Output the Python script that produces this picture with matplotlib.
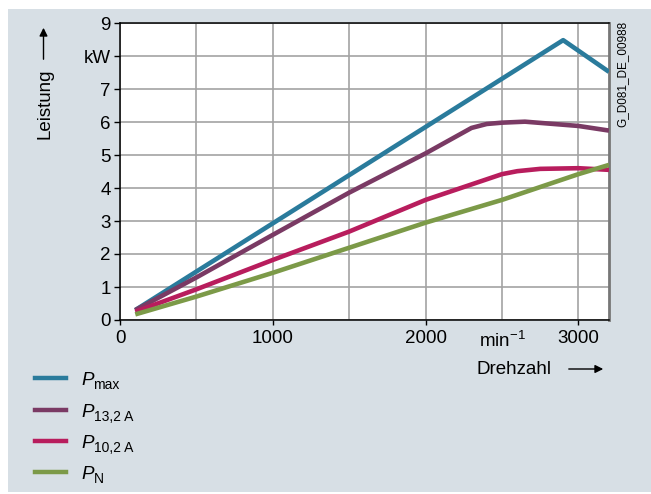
import matplotlib
matplotlib.use("Agg")
import matplotlib.pyplot as plt
from matplotlib.lines import Line2D
from matplotlib.patches import Rectangle, FancyArrowPatch

plt.rcParams['font.family'] = ['Liberation Sans', 'DejaVu Sans']
plt.rcParams['mathtext.fontset'] = 'custom'
plt.rcParams['mathtext.rm'] = 'Liberation Sans'
plt.rcParams['mathtext.it'] = 'Liberation Sans:italic'
plt.rcParams['mathtext.bf'] = 'Liberation Sans:bold'

# ---- data ----
pmax_x = [100, 2900, 3200]
pmax_y = [0.30, 8.48, 7.52]

p132_x = [100, 500, 1000, 1500, 2000, 2300, 2400, 2500, 2650, 3000, 3200]
p132_y = [0.30, 1.29, 2.58, 3.86, 5.05, 5.82, 5.94, 5.98, 6.01, 5.88, 5.74]

p102_x = [100, 500, 1000, 1500, 2000, 2500, 2600, 2750, 3000, 3200]
p102_y = [0.25, 0.93, 1.82, 2.68, 3.64, 4.42, 4.51, 4.58, 4.60, 4.55]

pn_x = [100, 500, 1000, 1500, 2000, 2500, 3000, 3200]
pn_y = [0.17, 0.71, 1.43, 2.19, 2.95, 3.64, 4.42, 4.70]

series_main = ['P', 'P', 'P', 'P']
series_sub = ['max', '13,2 A', '10,2 A', 'N']
colors = ['#2a7b9c', '#7a3a64', '#b81d5d', '#7c9a48']

x_ticks = [0, 1000, 2000, 3000]
x_ticklabels = ['0', '1000', '2000', '3000']
y_ticks = list(range(0, 10))
y_ticklabels = ['0', '1', '2', '3', '4', '5', '6', '7', 'kW', '9']

W, H = 651, 494
FS = 13.5
fig = plt.figure(figsize=(W / 100, H / 100), dpi=100)
fig.patch.set_facecolor('white')

def fx(px):
    return px / W

def fy(py):
    return 1 - py / H

# panel background
bg = Rectangle((fx(8), fy(492)), 1 - fx(8), fy(9) - fy(492),
               transform=fig.transFigure, facecolor='#d7dfe5',
               edgecolor='none', zorder=-10)
fig.patches.append(bg)

ax = fig.add_axes([fx(120), fy(320), fx(609) - fx(120), fy(23) - fy(320)])
ax.set_zorder(1)
ax.set_facecolor('white')

for xs, ys, c in zip([pmax_x, p132_x, p102_x, pn_x],
                     [pmax_y, p132_y, p102_y, pn_y], colors):
    ax.plot(xs, ys, color=c, lw=3.3, solid_joinstyle='round',
            solid_capstyle='butt', zorder=3)

ax.set_xlim(0, 3200)
ax.set_ylim(0, 9)
ax.set_xticks(x_ticks)
ax.set_xticklabels(x_ticklabels)
ax.set_xticks([500, 1500, 2500], minor=True)
ax.set_yticks(y_ticks)
ax.set_yticklabels(y_ticklabels)
ax.tick_params(axis='x', which='major', length=3.6, width=1, pad=3.4,
               labelsize=FS, direction='out', colors='black')
ax.tick_params(axis='x', which='minor', length=0)
ax.tick_params(axis='y', which='major', length=4.3, width=1, pad=2.5,
               labelsize=FS, direction='out', colors='black')
ax.grid(True, which='both', color='#a3a3a3', lw=1.2, zorder=1)
ax.set_axisbelow(True)

for s in ['top', 'left', 'bottom']:
    ax.spines[s].set_color('black')
    ax.spines[s].set_linewidth(1.1)
ax.spines['right'].set_color('#777777')
ax.spines['right'].set_linewidth(2.0)

# min^-1 label at position 2500
ax.text(2500, -0.62, r'min$^{\mathrm{-1}}$', transform=ax.transData,
        ha='center', va='center', fontsize=FS, clip_on=False)

# x label with arrow
fig.text(fx(476), fy(369), 'Drehzahl', ha='left', va='center', fontsize=FS)
fig.add_artist(FancyArrowPatch(
    (fx(566), fy(369)), (fx(606), fy(369)), transform=fig.transFigure,
    arrowstyle='-|>', mutation_scale=12, color='black', lw=1))

# y label with arrow
fig.text(fx(45), fy(104), 'Leistung', ha='center', va='center',
         rotation=90, fontsize=FS)
fig.add_artist(FancyArrowPatch(
    (fx(43.5), fy(62)), (fx(43.5), fy(25)), transform=fig.transFigure,
    arrowstyle='-|>', mutation_scale=12, color='black', lw=1))

# code label
fig.text(fx(622), fy(74), 'G_D081_DE_00988', ha='center', va='center',
         rotation=90, fontsize=8.5)

# legend
leg_y = [378.3, 410, 440.7, 472.3]
for ly, m, sub, c in zip(leg_y, series_main, series_sub, colors):
    fig.add_artist(Line2D([fx(35), fx(66)], [fy(ly), fy(ly)],
                          transform=fig.transFigure, color=c, lw=3.2))
    fig.text(fx(81), fy(ly + 7), m, ha='left', va='baseline',
             fontsize=FS, style='italic')
    fig.text(fx(93.5), fy(ly + 11), sub, ha='left', va='baseline',
             fontsize=10)

fig.savefig('out.png', dpi=100)
